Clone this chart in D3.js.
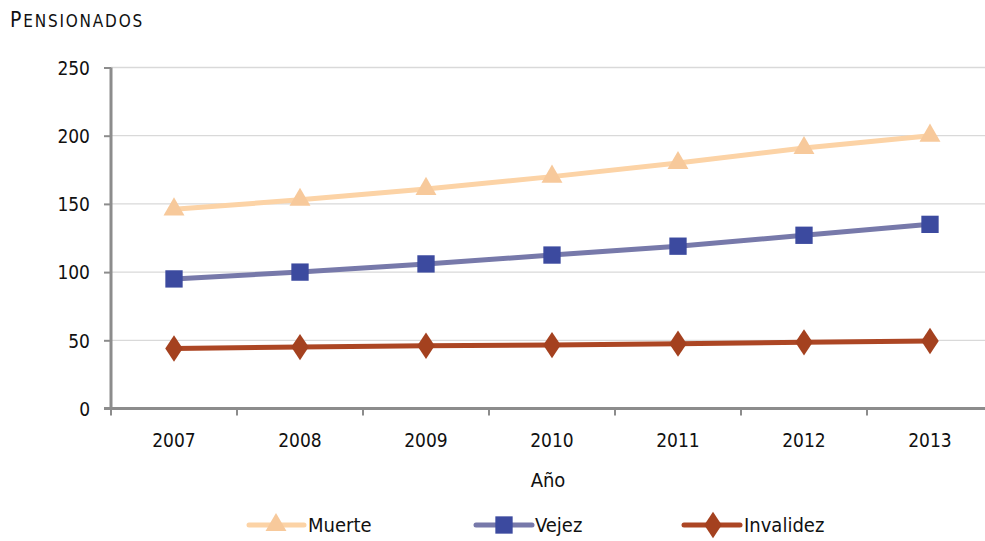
<!DOCTYPE html>
<html><head><meta charset="utf-8">
<script src="https://cdn.jsdelivr.net/npm/d3@7"></script>
<style>
html,body{margin:0;padding:0;background:#fff;}
text{font-family:"DejaVu Sans Condensed","DejaVu Sans",sans-serif;fill:#111;}
</style></head>
<body>
<svg id="c" width="985" height="541"></svg>
<script>
const years = ["2007","2008","2009","2010","2011","2012","2013"];
const muerte = [146, 153, 161, 170, 180, 191, 200];
const vejez = [95, 100, 106, 112.5, 119, 127, 135];
const invalidez = [44, 45, 46, 46.5, 47.5, 48.5, 49.5];
const yTicks = [0, 50, 100, 150, 200, 250];
const seriesNames = ["Muerte", "Vejez", "Invalidez"];

const series = [
  {name: seriesNames[0], values: muerte, line: "#FCD3A6", fill: "#F7C99B", shape: "triangle"},
  {name: seriesNames[1], values: vejez, line: "#7779AA", fill: "#3C4A9F", shape: "square"},
  {name: seriesNames[2], values: invalidez, line: "#AC4624", fill: "#A4411F", shape: "diamond"}
];

const svg = d3.select("#c");
const x = d3.scaleBand().domain(years).range([111, 993]).padding(0);
const y = d3.scaleLinear().domain([0, 250]).range([408.5, 67.5]);
const cx = d => x(d) + x.bandwidth() / 2;

// gridlines
svg.append("g").selectAll("line").data(yTicks.filter(t => t > 0)).join("line")
  .attr("x1", 111).attr("x2", 985)
  .attr("y1", d => y(d)).attr("y2", d => y(d))
  .attr("stroke", "#D9D9D9").attr("stroke-width", 1.3);

// y axis
const yAxis = d3.axisLeft(y).tickValues(yTicks).tickSize(7).tickPadding(14);
const gy = svg.append("g").attr("transform", "translate(111,0)").call(yAxis);
gy.select(".domain").remove();
gy.selectAll(".tick line").attr("stroke", "#8C8C8C").attr("stroke-width", 2);
gy.selectAll(".tick text").style("font-size", "19px").attr("fill", "#111").attr("dy", "0.36em");
svg.append("line").attr("x1", 111).attr("x2", 111).attr("y1", y(250)).attr("y2", y(0) + 1.5)
  .attr("stroke", "#8C8C8C").attr("stroke-width", 3);

// x axis
svg.append("line").attr("x1", 104).attr("x2", 985).attr("y1", y(0)).attr("y2", y(0))
  .attr("stroke", "#8C8C8C").attr("stroke-width", 3);
svg.append("g").selectAll("line").data(years).join("line")
  .attr("x1", d => x(d)).attr("x2", d => x(d))
  .attr("y1", y(0)).attr("y2", y(0) + 7)
  .attr("stroke", "#8C8C8C").attr("stroke-width", 2);
svg.append("g").selectAll("text").data(years).join("text")
  .attr("x", d => cx(d)).attr("y", 447)
  .attr("text-anchor", "middle").style("font-size", "19px").text(d => d);

// axis titles
svg.append("text").attr("x", 548).attr("y", 487).attr("text-anchor", "middle")
  .style("font-size", "20px").text("Año");
const title = svg.append("text").attr("x", 10).attr("y", 27).style("letter-spacing", "1.8px");
title.append("tspan").style("font-size", "21px").text("P");
title.append("tspan").style("font-size", "17px").text("ENSIONADOS");

const symbolFor = s => s === "triangle" ? d3.symbol().type(d3.symbolTriangle).size(190)
  : s === "square" ? d3.symbol().type(d3.symbolSquare).size(300)
  : d3.symbol().type(d3.symbolDiamond).size(200);

const line = d3.line().x(d => cx(d.year)).y(d => y(d.value));

series.forEach(s => {
  const pts = years.map((yr, i) => ({year: yr, value: s.values[i]}));
  svg.append("path").datum(pts).attr("d", line).attr("fill", "none")
    .attr("stroke", s.line).attr("stroke-width", 5).attr("stroke-linejoin", "round");
  svg.append("g").selectAll("path").data(pts).join("path")
    .attr("d", symbolFor(s.shape))
    .attr("transform", d => `translate(${cx(d.year)},${y(d.value)})` + (s.shape === "diamond" ? " scale(1.15,1)" : ""))
    .attr("fill", s.fill);
});

// legend
const legendItems = [
  {s: series[0], x1: 249, x2: 304, mx: 276, tx: 308},
  {s: series[1], x1: 476, x2: 532, mx: 504, tx: 535},
  {s: series[2], x1: 684, x2: 740, mx: 713, tx: 744}
];
const ly = 525;
legendItems.forEach(it => {
  svg.append("line").attr("x1", it.x1).attr("x2", it.x2).attr("y1", ly).attr("y2", ly)
    .attr("stroke", it.s.line).attr("stroke-width", 5).attr("stroke-linecap", "round");
  svg.append("path").attr("d", symbolFor(it.s.shape))
    .attr("transform", `translate(${it.mx},${ly})` + (it.s.shape === "diamond" ? " scale(1.15,1)" : ""))
    .attr("fill", it.s.fill);
  svg.append("text").attr("x", it.tx).attr("y", ly + 7).style("font-size", "20px").text(it.s.name);
});
</script>
</body></html>
